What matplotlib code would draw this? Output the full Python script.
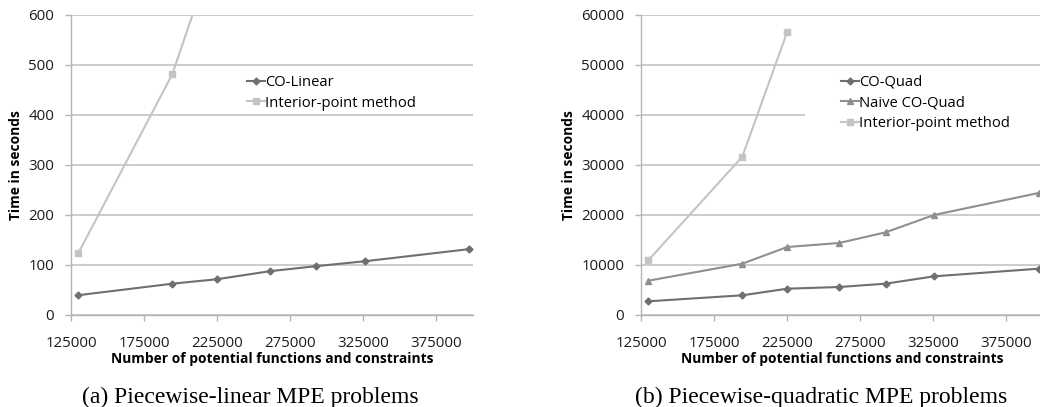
import matplotlib
matplotlib.use("Agg")
import matplotlib.pyplot as plt
from matplotlib.patches import Rectangle

# ---- data ----
x_linear = [130000, 194300, 225000, 261000, 292500, 326300, 397000]
co_linear = [39, 62, 71, 87, 97, 107, 131]
x_ip_linear = [130000, 194300, 225000]
ip_linear = [123, 481, 744]

x_quad = [130000, 194300, 225000, 260600, 292300, 325400, 397000]
co_quad = [2680, 3880, 5200, 5540, 6200, 7670, 9200]
naive_quad = [6800, 10200, 13540, 14340, 16470, 19940, 24340]
x_ip_quad = [130000, 194300, 225000]
ip_quad = [10870, 31600, 56540]

xticks = [125000, 175000, 225000, 275000, 325000, 375000]
yticks_a = [0, 100, 200, 300, 400, 500, 600]
yticks_b = [0, 10000, 20000, 30000, 40000, 50000, 60000]

SANS = ["Open Sans", "DejaVu Sans"]
plt.rcParams["font.family"] = SANS

C_CO = "#6f6f6f"
C_NAIVE = "#8f8f8f"
C_IP = "#c4c4c4"
C_GRID = "#bfbfbf"
C_AXIS = "#b4b4b4"

W, H = 1040, 407
fig = plt.figure(figsize=(W / 100, H / 100), dpi=100)


def style(ax, yticks, ylim):
    ax.set_xlim(125000, 400000)
    ax.set_ylim(*ylim)
    ax.set_xticks(xticks)
    ax.set_xticklabels([str(t) for t in xticks])
    ax.set_yticks(yticks)
    ax.set_yticklabels([str(t) for t in yticks])
    for s in ["top", "right"]:
        ax.spines[s].set_visible(False)
    for s in ["left", "bottom"]:
        ax.spines[s].set_color(C_AXIS)
        ax.spines[s].set_linewidth(1.0)
    ax.set_axisbelow(True)
    ax.yaxis.grid(True, color=C_GRID, linewidth=1.1)
    ax.tick_params(axis="both", colors=C_AXIS, length=4, width=1.0,
                   labelcolor="#1a1a1a", labelsize=10.8)
    ax.tick_params(axis="x", pad=11)
    ax.tick_params(axis="y", pad=8)
    ax.set_xlabel("Number of potential functions and constraints",
                  fontsize=9.9, fontweight="bold", labelpad=1)
    ax.set_ylabel("Time in seconds", fontsize=9.9, fontweight="bold", labelpad=4)


def px_rect(l, r, b, t):
    return [l / W, 1 - b / H, (r - l) / W, (b - t) / H]


# ---- panel (a) ----
ax1 = fig.add_axes(px_rect(71, 473, 314.7, 14.7))
style(ax1, yticks_a, (0, 600))
ax1.plot(x_linear, co_linear, color=C_CO, marker="D", markersize=3.5,
         linewidth=1.5, label="CO-Linear", zorder=3)
ax1.plot(x_ip_linear, ip_linear, color=C_IP, marker="s", markersize=5,
         linewidth=1.5, label="Interior-point method", zorder=3)
ax1.legend(loc="upper left", bbox_to_anchor=(247 / W, 1 - 75 / H),
           bbox_transform=fig.transFigure, frameon=False,
           fontsize=10.6, handlelength=1.2, handletextpad=0.05,
           labelspacing=0.38, borderpad=0, borderaxespad=0)

# ---- panel (b) ----
ax2 = fig.add_axes(px_rect(641, 641 + 402, 314.7, 14.7))
style(ax2, yticks_b, (0, 60000))
ax2.plot(x_quad, co_quad, color=C_CO, marker="D", markersize=3.5,
         linewidth=1.5, label="CO-Quad", zorder=3)
ax2.plot(x_quad, naive_quad, color=C_NAIVE, marker="^", markersize=5,
         linewidth=1.5, label="Naive CO-Quad", zorder=3)
ax2.plot(x_ip_quad, ip_quad, color=C_IP, marker="s", markersize=5,
         linewidth=1.5, label="Interior-point method", zorder=3)
# legend background (white box over the gridline)
ax2.add_patch(Rectangle((805 / W, 1 - 137 / H), 0.3, 67 / H,
                        transform=fig.transFigure, facecolor="white",
                        edgecolor="none", zorder=1))
ax2.legend(loc="upper left", bbox_to_anchor=(841 / W, 1 - 75 / H),
           bbox_transform=fig.transFigure, frameon=False,
           fontsize=10.6, handlelength=1.2, handletextpad=0.05,
           labelspacing=0.38, borderpad=0, borderaxespad=0)

# ---- captions ----
fig.text(250 / W, 10 / H, "(a) Piecewise-linear MPE problems",
         family=["Liberation Serif"], fontsize=17, ha="center", va="center")
fig.text(821 / W, 10 / H, "(b) Piecewise-quadratic MPE problems",
         family=["Liberation Serif"], fontsize=17, ha="center", va="center")

fig.savefig("out.png", dpi=100)
